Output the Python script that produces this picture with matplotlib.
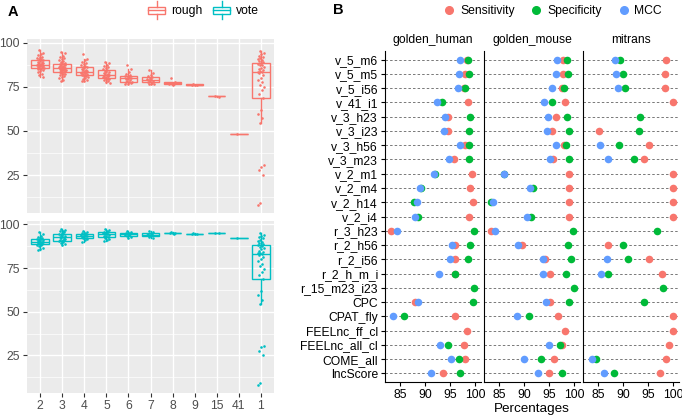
import numpy as np
import matplotlib
matplotlib.use('Agg')
import matplotlib.pyplot as plt
from matplotlib.patches import Rectangle, Patch
from matplotlib.lines import Line2D
from matplotlib.legend_handler import HandlerBase

plt.rcParams['font.family'] = ['Liberation Sans', 'DejaVu Sans']
plt.rcParams['lines.scale_dashes'] = False

# ---------------- Panel A data ----------------
group_labels = ['2', '3', '4', '5', '6', '7', '8', '9', '15', '41', '1']

rough_2 = [95.6, 94.2, 93.5, 92.8, 92.0, 91.6, 91.2, 90.8, 90.4, 90.0, 89.6, 89.2, 88.9, 88.6,
           88.3, 88.0, 87.8, 87.6, 87.5, 87.3, 87.1, 86.9, 86.7, 86.5, 86.3, 86.0, 85.8, 85.6,
           85.3, 85.0, 84.6, 84.0, 83.2, 82.4, 81.5, 80.6]
rough_3 = [94.5, 93.8, 92.5, 91.6, 91.0, 90.5, 90.0, 89.5, 89.0, 88.6, 88.2, 87.9, 87.6, 87.3,
           87.0, 86.8, 86.5, 86.3, 86.1, 85.9, 85.7, 85.6, 85.4, 85.2, 85.0, 84.8, 84.6, 84.4,
           84.2, 84.0, 83.8, 83.5, 83.3, 83.1, 82.8, 82.4, 82.0, 81.5, 81.0, 80.4, 79.8, 79.0, 78.4]
rough_4 = [93.6, 90.6, 90.0, 89.2, 88.5, 87.8, 87.2, 86.6, 86.2, 85.9, 85.5, 85.1, 84.7, 84.4,
           84.1, 83.8, 83.6, 83.5, 83.3, 83.0, 82.7, 82.4, 82.1, 81.8, 81.5, 81.3, 81.0, 80.6,
           80.1, 79.6, 79.0, 78.5, 78.0]
rough_5 = [89.0, 88.2, 87.5, 86.8, 86.0, 85.4, 84.8, 84.3, 84.0, 83.6, 83.2, 82.8, 82.4, 82.0,
           81.8, 81.5, 81.2, 80.9, 80.6, 80.3, 80.0, 79.7, 79.4, 79.1, 78.7, 78.2, 77.6, 77.0]
rough_6 = [87.3, 85.0, 83.6, 82.2, 81.4, 81.1, 80.8, 80.5, 80.2, 79.9, 79.6, 79.2, 78.8, 78.3,
           77.9, 77.7, 77.4, 77.1, 76.8, 76.6]
rough_7 = [84.3, 83.0, 81.8, 80.9, 80.5, 80.1, 79.6, 79.2, 78.8, 78.4, 78.0, 77.5, 77.1, 76.8,
           76.6, 76.4]
rough_8 = [79.8, 77.8, 77.3, 77.0, 76.8, 76.6, 76.3, 75.9]
rough_9 = [76.4, 76.2, 76.0, 75.9]
rough_15 = [69.6, 69.4]
rough_41 = [48.0]

individual = [95.0, 94.2, 93.4, 92.6, 92.0, 91.4, 90.7, 90.0, 89.5, 88.8,
              88.4, 88.0, 87.5, 87.0, 86.3, 85.7, 85.0, 84.4, 83.8, 83.5,
              83.3,
              82.5, 81.4, 80.2, 79.0, 77.6, 76.2, 74.6, 73.0, 70.8, 68.6,
              62.0, 59.5, 57.0, 54.7,
              30.7, 29.7, 27.8, 25.0, 9.1, 8.0]

vote_2 = [95.6, 94.5, 93.6, 93.0, 92.5, 92.2, 91.9, 91.6, 91.3, 91.0, 90.7, 90.4, 90.2, 90.0,
          89.8, 89.6, 89.3, 89.0, 88.7, 88.4, 88.0, 87.5, 86.8, 86.0, 85.2]
vote_3 = [97.5, 97.0, 96.5, 96.0, 95.5, 95.0, 94.7, 94.4, 94.0, 93.6, 93.2, 92.8, 92.4, 92.0,
          91.7, 91.4, 91.1, 90.9, 90.6, 90.3, 89.9, 89.5, 89.0, 88.5]
vote_4 = [96.3, 95.8, 95.3, 94.9, 94.6, 94.3, 94.0, 93.8, 93.6, 93.4, 93.1, 92.8, 92.5, 92.2,
          91.7, 91.0, 90.2]
vote_5 = [97.2, 96.7, 96.2, 95.8, 95.5, 95.2, 94.9, 94.6, 94.3, 94.0, 93.6, 93.2, 92.7, 92.3,
          91.8, 91.0, 90.3]
vote_6 = [96.0, 95.6, 95.2, 94.9, 94.6, 94.3, 94.0, 93.7, 93.4, 93.0, 92.3]
vote_7 = [96.0, 95.5, 95.1, 94.8, 94.4, 94.1, 93.8, 93.4, 92.8, 92.2]
vote_8 = [95.6, 95.2, 95.0, 94.9, 94.7]
vote_9 = [94.9, 94.8, 94.7, 94.6]
vote_15 = [95.4, 95.2]
vote_41 = [92.4]

rough_values = [rough_2, rough_3, rough_4, rough_5, rough_6, rough_7, rough_8, rough_9,
                rough_15, rough_41, individual]
vote_values = [vote_2, vote_3, vote_4, vote_5, vote_6, vote_7, vote_8, vote_9,
               vote_15, vote_41, individual]
strategies = ['rough', 'vote']

# ---------------- Panel B data ----------------
nan = np.nan
tools = ['v_5_m6', 'v_5_m5', 'v_5_i56', 'v_41_i1', 'v_3_h23', 'v_3_i23', 'v_3_h56', 'v_3_m23',
         'v_2_m1', 'v_2_m4', 'v_2_h14', 'v_2_i4', 'r_3_h23', 'r_2_h56', 'r_2_i56', 'r_2_h_m_i',
         'r_15_m23_i23', 'CPC', 'CPAT_fly', 'FEELnc_ff_cl', 'FEELnc_all_cl', 'COME_all', 'lncScore']
datasets = ['golden_human', 'golden_mouse', 'mitrans']
metrics = ['Sensitivity', 'Specificity', 'MCC']

human_sens = [98.3, 98.0, 97.8, 98.5, 94.5, 94.5, 98.0, 95.8, 99.4, 99.0, 99.5, 98.7, 83.1,
              96.1, 96.1, 96.0, nan, 88.0, 96.0, 98.3, 97.7, 98.0, 93.5]
human_spec = [98.5, 98.7, 98.1, 93.3, 99.0, 98.7, 98.8, 98.7, 92.0, 89.1, 87.7, 88.5, 99.8,
              98.9, 98.5, 96.1, 99.7, 99.5, 85.7, nan, 94.5, 96.7, 96.9]
human_mcc = [96.9, 96.8, 96.5, 92.3, 94.0, 93.7, 97.1, 94.8, 91.7, 88.9, 88.3, 88.0, 84.3,
             95.3, 94.9, 92.8, nan, 88.5, 83.5, nan, 92.9, 95.1, 91.2]

mouse_sens = [97.8, 97.8, 97.5, 98.1, 96.4, 95.6, 98.0, 95.8, 99.0, 99.0, 98.9, 98.9, 83.4,
              89.5, 94.2, 95.2, nan, 95.2, 96.8, 98.1, 97.6, 96.0, 95.0]
mouse_spec = [98.6, 98.7, 98.0, 95.6, 98.5, 98.9, 98.3, 99.0, 86.0, 91.8, 83.4, 91.4, 99.7,
              98.7, 99.3, 98.3, 100.0, 99.0, 91.0, nan, 97.1, 93.4, 97.5]
mouse_mcc = [96.5, 96.4, 95.5, 93.9, 94.8, 94.6, 96.3, 95.1, 86.0, 91.2, 83.8, 90.6, 84.2,
             88.8, 93.7, 93.7, nan, 94.4, 88.5, nan, 94.9, 89.9, 92.7]

mitrans_sens = [98.6, 98.3, 98.3, 100.0, nan, 85.1, 95.2, 94.2, 99.9, 100.0, 99.9, 100.0, nan,
                86.9, 95.1, 97.7, nan, nan, 99.9, 99.9, 99.1, 98.6, 97.3]
mitrans_spec = [89.4, 89.9, 90.4, nan, 93.4, 93.2, 89.1, 92.1, nan, nan, nan, nan, 96.7,
                89.9, 90.9, 86.9, 97.9, 94.2, nan, nan, nan, 84.5, 88.1]
mitrans_mcc = [88.3, 88.5, 89.0, nan, nan, nan, 85.3, 87.0, nan, nan, nan, nan, nan,
               nan, 86.8, 85.5, nan, nan, nan, nan, nan, 83.8, 86.2]

panel_b = {
    'golden_human': [human_sens, human_spec, human_mcc],
    'golden_mouse': [mouse_sens, mouse_spec, mouse_mcc],
    'mitrans': [mitrans_sens, mitrans_spec, mitrans_mcc],
}

# ---------------- styling ----------------
W, H = 682, 417
fig = plt.figure(figsize=(W / 100, H / 100), dpi=100)

def fr(l, t, r, b):
    return [l / W, 1 - b / H, (r - l) / W, (b - t) / H]

strat_colors = ['#F8766D', '#00BFC4']
metric_colors = ['#F8766D', '#00BA38', '#619CFF']
FS = 8.7

axA_top = fig.add_axes(fr(27, 39, 274, 213))
axA_bot = fig.add_axes(fr(27, 221, 274, 393))

def jitter_offsets(n, width):
    k = np.arange(n)
    return ((k * 0.61803398875 + 0.31) % 1.0 - 0.5) * 2 * width

for ax, vals, col in [(axA_top, rough_values, strat_colors[0]), (axA_bot, vote_values, strat_colors[1])]:
    ax.set_facecolor('#EBEBEB')
    pos = np.arange(1, len(group_labels) + 1)
    bp = ax.boxplot(vals, positions=pos, widths=0.8, whis=1.5, showfliers=False,
                    patch_artist=True, manage_ticks=False, zorder=3)
    for b in bp['boxes']:
        b.set_facecolor('none'); b.set_edgecolor(col); b.set_linewidth(1.0)
    for part in ['whiskers', 'caps', 'medians']:
        for ln in bp[part]:
            ln.set_color(col); ln.set_linewidth(1.0)
    for ln in bp['caps']:
        ln.set_visible(False)
    for i, v in enumerate(vals):
        v = np.asarray(v)
        xs = pos[i] + jitter_offsets(len(v), 0.15)
        ax.scatter(xs, v, s=3.5, color=col, linewidths=0, zorder=4)
    ax.set_xlim(0.4, len(group_labels) + 0.6)
    ax.set_ylim(3.5, 102.0)
    ax.set_yticks([25, 50, 75, 100])
    ax.set_yticks([12.5, 37.5, 62.5, 87.5], minor=True)
    ax.set_xticks(pos)
    ax.grid(True, which='major', color='white', lw=1.0, zorder=0)
    ax.grid(True, which='minor', axis='y', color='white', lw=0.5, zorder=0)
    ax.set_axisbelow(True)
    for s in ax.spines.values():
        s.set_visible(False)
    ax.tick_params(axis='both', which='major', length=3, color='#333333', labelsize=FS,
                   labelcolor='#4D4D4D', pad=2)
    ax.tick_params(axis='both', which='minor', length=0)

axA_top.set_xticklabels([])
axA_top.tick_params(axis='x', length=0)
axA_bot.set_xticklabels(group_labels)

class BoxHandler(HandlerBase):
    def create_artists(self, legend, orig_handle, xdescent, ydescent, width, height, fontsize, trans):
        col = orig_handle.get_edgecolor()
        x0, y0 = -xdescent, -ydescent
        bw = width * 0.9
        bx = x0 + (width - bw) / 2
        rect = Rectangle((bx, y0 + height * 0.18), bw, height * 0.64, fc='white', ec=col,
                         lw=1.0, transform=trans)
        cx = x0 + width / 2
        l1 = Line2D([cx, cx], [y0 - height * 0.35, y0 + height * 0.18], color=col, lw=1.0, transform=trans)
        l2 = Line2D([cx, cx], [y0 + height * 0.82, y0 + height * 1.35], color=col, lw=1.0, transform=trans)
        l3 = Line2D([bx, bx + bw], [y0 + height * 0.5] * 2, color=col, lw=1.0, transform=trans)
        return [rect, l1, l2, l3]

handlesA = [Patch(edgecolor=c, facecolor='white') for c in strat_colors]
fig.legend(handlesA, strategies, loc='center', bbox_to_anchor=(203 / W, 1 - 11 / H), ncol=2,
           frameon=False, fontsize=FS, handler_map={Patch: BoxHandler()}, handlelength=1.6,
           handleheight=1.0, handletextpad=0.4, columnspacing=0.8)

fig.text(8 / W, 1 - 12 / H, 'A', fontsize=10.5, fontweight='bold', va='center', ha='left')
fig.text(333 / W, 1 - 10 / H, 'B', fontsize=10.5, fontweight='bold', va='center', ha='left')

# ---------------- Panel B ----------------
lefts = [385, 484, 583]
ypos = np.arange(len(tools))
axesB = []
for j, ds in enumerate(datasets):
    ax = fig.add_axes(fr(lefts[j], 51, lefts[j] + 96, 382))
    axesB.append(ax)
    for y in ypos:
        ax.axhline(y, color='#444444', lw=0.5, linestyle=(0, (1.8, 1.5)), zorder=1)
    for m, vals in enumerate(panel_b[ds]):
        ax.scatter(np.asarray(vals, dtype=float), ypos, s=30, color=metric_colors[m],
                   linewidths=0, zorder=3 + m)
    ax.set_xlim(82.0, 101.2)
    ax.set_ylim(len(tools) - 0.4, -0.6)
    ax.set_xticks([85, 90, 95, 100])
    ax.set_yticks(ypos)
    for s in ['top', 'right']:
        ax.spines[s].set_visible(False)
    for s in ['left', 'bottom']:
        ax.spines[s].set_linewidth(0.8)
        ax.spines[s].set_color('black')
    ax.tick_params(axis='x', length=3, labelsize=FS, pad=2, colors='black')
    ax.tick_params(axis='y', length=3, labelsize=FS, pad=2, colors='black')
    ax.set_title(ds, fontsize=FS, pad=6)
    if j > 0:
        ax.set_yticklabels([])
        ax.tick_params(axis='y', length=0)
    else:
        ax.set_yticklabels(tools)

fig.text((385 + 679) / 2 / W, 1 - 409 / H, 'Percentages', fontsize=9.7, ha='center', va='center')

handlesB = [Line2D([], [], marker='o', ls='none', color=c, markersize=5.5) for c in metric_colors]
fig.legend(handlesB, metrics, loc='center', bbox_to_anchor=(552 / W, 1 - 11 / H), ncol=3,
           frameon=False, fontsize=FS, handletextpad=0.3, columnspacing=1.2, handlelength=1.2)

fig.savefig('out.png', dpi=100)
